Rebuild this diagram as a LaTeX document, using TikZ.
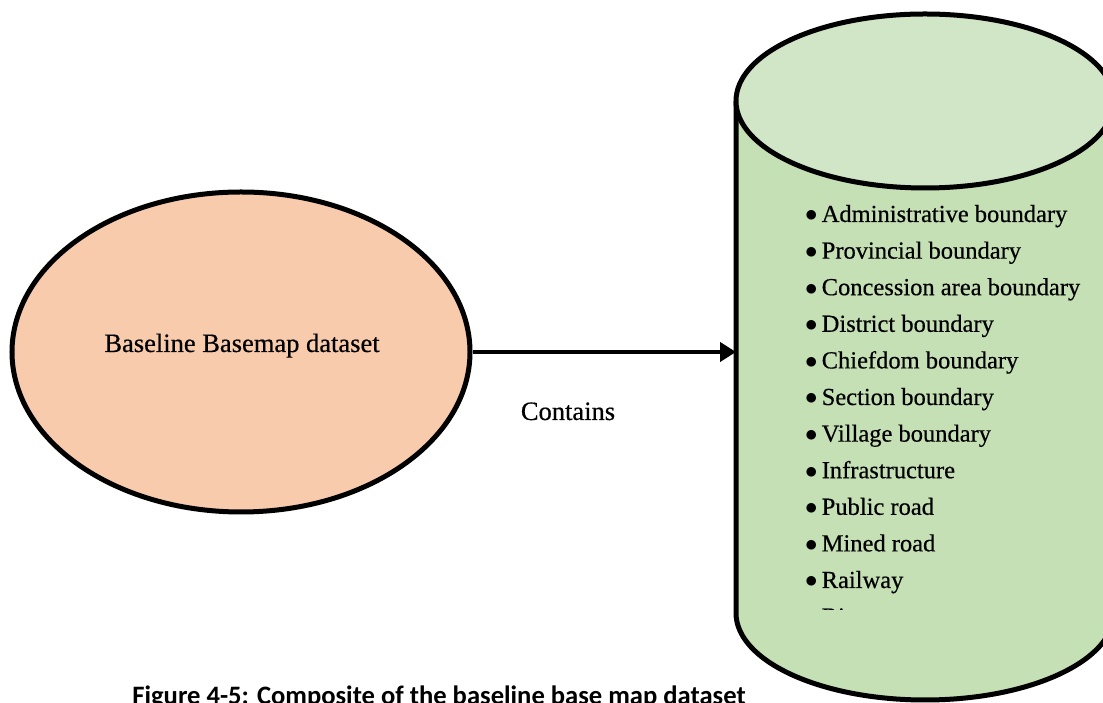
\documentclass[tikz,border=0pt]{standalone}
\usepackage{fontspec}
\setmainfont{Liberation Serif}[FakeBold=0.5]
\newfontfamily\capfont{Carlito}
\usetikzlibrary{arrows.meta,shapes.geometric}

\definecolor{peach}{HTML}{F8CBAD}
\definecolor{dbbody}{HTML}{C5E0B4}
\definecolor{dbtop}{HTML}{D0E6C6}

\tikzset{
  x=1pt, y=1pt,
  outline/.style={draw=black, line width=5pt},
  flow/.style={draw=black, line width=4pt, -{Triangle[length=16pt,width=19pt]}},
  plain/.style={inner sep=0pt, anchor=base, font=\fontsize{26.5}{30}\selectfont},
  itemtext/.style={inner sep=0pt, anchor=base west, font=\fontsize{24.5}{28}\selectfont},
}

\begin{document}
\begin{tikzpicture}
\useasboundingbox (0,0) rectangle (1103,703);
\clip (0,0) rectangle (1103,703);

% source dataset
\node[outline, fill=peach, ellipse, minimum width=458pt, minimum height=320pt, inner sep=0pt]
  (base) at (241,351) {};
\node[plain] (baselabel) at (242,351) {Baseline Basemap dataset};

% database cylinder: body, then top lid
\fill[dbbody] (736,602) -- (736,90)
  arc[start angle=180, end angle=360, x radius=189, y radius=87] -- (1114,602) -- cycle;
\draw[line width=5pt] (736,602) -- (736,90)
  arc[start angle=180, end angle=360, x radius=189, y radius=87] -- (1114,602);
\draw[outline, fill=dbtop] (925,602) ellipse[x radius=189, y radius=87];
\coordinate (dbwall) at (736,349);

% list of layers, cut off at the lower edge of the text area
\begin{scope}
\clip (790,93) rectangle (1103,520);
\foreach \t [count=\i] in {Administrative boundary, Provincial boundary,
  Concession area boundary, District boundary, Chiefdom boundary,
  Section boundary, Village boundary, Infrastructure, Public road,
  Mined road, Railway, River}
  \node[itemtext] (item\i) at (805,{703-222-36.6*(\i-1)}) {$\bullet$\,\t};
\end{scope}

% relation
\draw[flow] (base.east) -- (base.east -| dbwall);
\node[plain] (rel) at (568,283) {Contains};

% caption
\node[inner sep=0pt, anchor=base, font=\capfont\bfseries\fontsize{26.6}{30}\selectfont]
  (caption) at (439,-2) {Figure 4-5: Composite of the baseline base map dataset};
\end{tikzpicture}
\end{document}
